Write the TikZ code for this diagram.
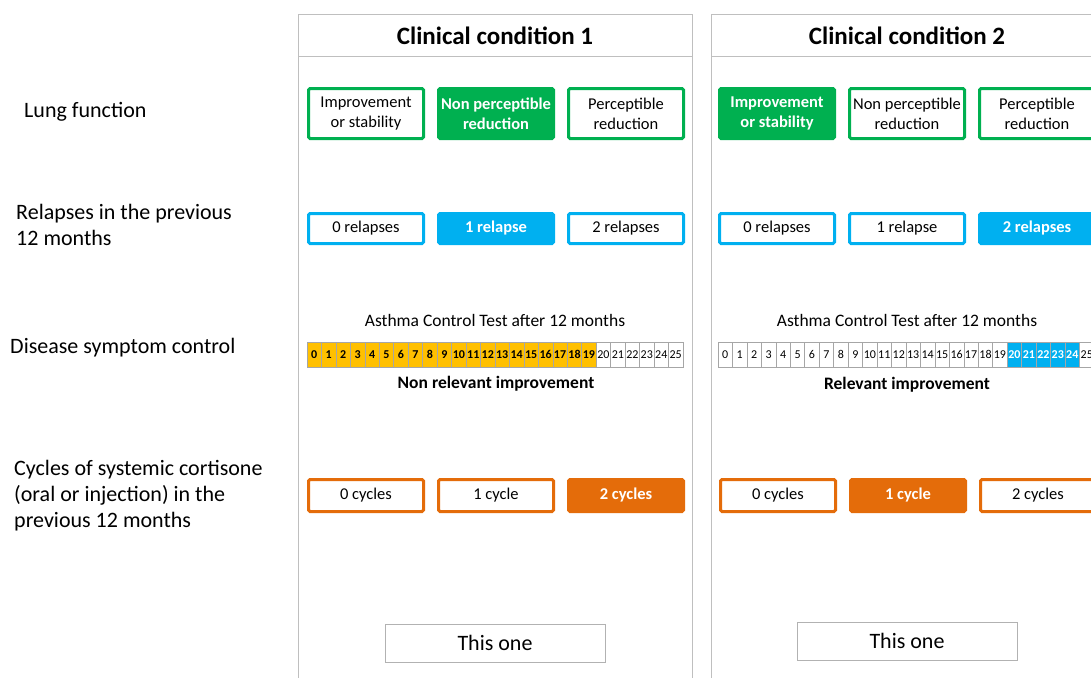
\documentclass[tikz,border=0pt]{standalone}
\usepackage{fontspec}
\setmainfont{Carlito}
\usetikzlibrary{positioning}
\definecolor{lunggreen}{HTML}{00B050}
\definecolor{relblue}{HTML}{00B0F0}
\definecolor{cycorange}{HTML}{E46C0A}
\definecolor{actyellow}{HTML}{FFC000}
\definecolor{framegray}{HTML}{BFBFBF}
\begin{document}
\begin{tikzpicture}[x=1pt,y=-1pt,node distance=12pt,
    opt/.style={draw=#1,line width=3pt,rounded corners=1.5pt,minimum width=115pt,
                inner sep=1pt,align=center,font=\fontsize{16.5}{20}\selectfont},
    sel/.style={opt=#1,fill=#1,text=white,font=\fontsize{16.5}{20}\selectfont\bfseries},
    lung/.style={minimum height=50pt},
    rel/.style={minimum height=30pt},
    cyc/.style={minimum height=32pt},
    cell/.style={draw=gray!70,line width=0.6pt,minimum width=14.46pt,minimum height=25pt,
                 inner sep=0pt,font=\fontsize{12}{12}\selectfont},
    hit/.style={cell,fill=#1,font=\fontsize{12}{12}\selectfont\bfseries},
    rowlabel/.style={anchor=west,align=left,font=\fontsize{22}{26}\selectfont},
    pick/.style={draw=gray!60,line width=0.8pt,minimum width=220pt,minimum height=38pt,
                 font=\fontsize{22}{24}\selectfont}]
  \clip (0,0) rectangle (1091,677);
  \fill[white] (0,0) rectangle (1091,677);

  % panels
  \draw[framegray,line width=1pt] (298,15) rectangle (692,700) (298,57) -- (692,57);
  \draw[framegray,line width=1pt] (711,15) rectangle (1120,700) (711,57) -- (1120,57);
  \node[font=\fontsize{25}{27}\selectfont\bfseries] (T1) at (495,36) {Clinical condition 1};
  \node[font=\fontsize{25}{27}\selectfont\bfseries] (T2) at (907,36) {Clinical condition 2};

  % row labels
  \node[rowlabel] (Rlung) at (20.7,112) {Lung function};
  \node[rowlabel] (Rrel)  at (12.7,225) {Relapses in the previous\\12 months};
  \node[rowlabel] (Ract)  at (6.7,348)  {Disease symptom control};
  \node[rowlabel] (Rcyc)  at (10.7,496) {Cycles of systemic cortisone\\(oral or injection) in the\\previous 12 months};

  % lung function
  \node[opt=lunggreen,lung]  (L1a) at (366,113.5) {Improvement\\or stability};
  \node[sel=lunggreen,lung]  (L1b) [right=of L1a] {Non perceptible\\reduction};
  \node[opt=lunggreen,lung]  (L1c) [right=of L1b] {Perceptible\\reduction};
  \node[sel=lunggreen,lung]  (L2a) at (777,113.5) {Improvement\\or stability};
  \node[opt=lunggreen,lung]  (L2b) [right=of L2a] {Non perceptible\\reduction};
  \node[opt=lunggreen,lung]  (L2c) [right=of L2b] {Perceptible\\reduction};

  % relapses
  \node[opt=relblue,rel] (P1a) at (366,228.5) {0 relapses};
  \node[sel=relblue,rel] (P1b) [right=of P1a] {1 relapse};
  \node[opt=relblue,rel] (P1c) [right=of P1b] {2 relapses};
  \node[opt=relblue,rel] (P2a) at (777,228.5) {0 relapses};
  \node[opt=relblue,rel] (P2b) [right=of P2a] {1 relapse};
  \node[sel=relblue,rel] (P2c) [right=of P2b] {2 relapses};

  % asthma control test
  \node[font=\fontsize{17.5}{19}\selectfont] (A1) at (495,320) {Asthma Control Test after 12 months};
  \node[font=\fontsize{17.5}{19}\selectfont] (A2) at (907,320) {Asthma Control Test after 12 months};
  \foreach \i in {0,...,19}
    \node[hit=actyellow] (a\i) at ({307+14.46*(\i+0.5)},354.5) {\i};
  \foreach \i in {20,...,25}
    \node[cell] (a\i) at ({307+14.46*(\i+0.5)},354.5) {\i};
  \foreach \i in {0,...,19,25}
    \node[cell] (b\i) at ({718+14.46*(\i+0.5)},354.5) {\i};
  \foreach \i in {20,...,24}
    \node[hit=relblue,text=white] (b\i) at ({718+14.46*(\i+0.5)},354.5) {\i};
  \node[font=\fontsize{17.5}{19}\selectfont\bfseries] (N1) at (496,384) {Non relevant improvement};
  \node[font=\fontsize{17.5}{19}\selectfont\bfseries] (N2) at (907,385) {Relevant improvement};

  % cortisone cycles
  \node[opt=cycorange,cyc] (C1a) at (366,495.5) {0 cycles};
  \node[opt=cycorange,cyc] (C1b) [right=of C1a] {1 cycle};
  \node[sel=cycorange,cyc] (C1c) [right=of C1b] {2 cycles};
  \node[opt=cycorange,cyc] (C2a) at (778,495.5) {0 cycles};
  \node[sel=cycorange,cyc] (C2b) [right=of C2a] {1 cycle};
  \node[opt=cycorange,cyc] (C2c) [right=of C2b] {2 cycles};

  % choice
  \node[pick] (S1) at (495,643) {This one};
  \node[pick] (S2) at (907,641) {This one};
\end{tikzpicture}
\end{document}
